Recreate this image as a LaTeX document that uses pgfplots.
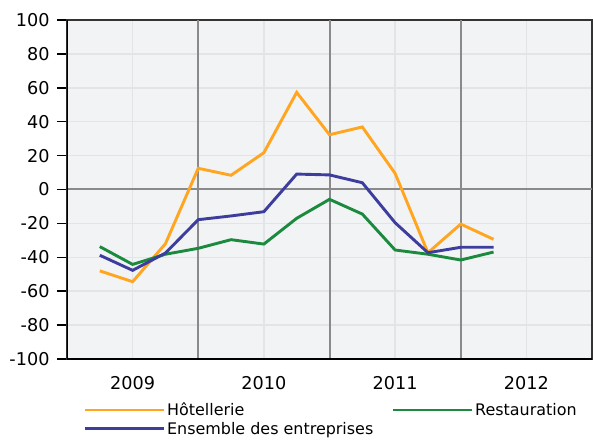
\documentclass[border=0pt]{standalone}
\usepackage{fontspec}
\setmainfont{DejaVu Sans}
\usepackage{pgfplots}
\pgfplotsset{compat=1.18}
\definecolor{bgc}{HTML}{F2F3F5}
\definecolor{lgrid}{HTML}{E3E4E7}
\definecolor{dgrid}{HTML}{8A8A8A}
\definecolor{hot}{HTML}{FFA51F}
\definecolor{rest}{HTML}{1B8A3E}
\definecolor{ens}{HTML}{3D3D9E}
\begin{document}
\begin{tikzpicture}
\begin{axis}[
    scale only axis,
    width=525bp, height=339bp,
    xmin=0, xmax=16,
    ymin=-100, ymax=100,
    axis background/.style={fill=bgc},
    axis line style={draw=black!80, line width=1.2bp},
    tick label style={font=\fontsize{17.7}{20}\selectfont},
    ytick={-100,-80,...,100},
    yticklabels={-100,-80,-60,-40,-20,0,20,40,60,80,100},
    ytick pos=left,
    tick align=outside,
    major tick length=10bp,
    tick style={black, line width=1.5bp},
    yticklabel style={xshift=-4bp},
    xtick={2,6,10,14},
    xticklabels={2009,2010,2011,2012},
    xtick style={draw=none},
    xticklabel style={yshift=-4bp},
    grid=major,
    major grid style={lgrid, line width=1.5bp},
    extra x ticks={4,8,12},
    extra x tick labels={},
    extra x tick style={major tick length=0pt, major grid style={dgrid, line width=2bp}},
    extra y ticks={0},
    extra y tick labels={},
    extra y tick style={major tick length=0pt, major grid style={dgrid, line width=2bp}},
    legend columns=2,
    legend cell align=left,
    legend style={draw=none, fill=none, inner sep=0pt,
        at={(0.0305,-0.123)}, anchor=north west,
        font=\fontsize{16}{19}\selectfont,
        /tikz/every even column/.append style={column sep=16bp},
        row sep=1bp},
    legend image code/.code={\draw[#1] (0bp,0bp) -- (79bp,0bp);},
]
\addplot[hot, line width=2.9bp] coordinates {
 (1,-48) (2,-54.4) (3,-32) (4,12.5) (5,8.4) (6,21.7) (7,57.3)
 (8,32.3) (9,36.9) (10,9.5) (11,-37.3) (12,-20.4) (13,-29.4)};
\addlegendentry{Hôtellerie}
\addplot[rest, line width=2.9bp] coordinates {
 (1,-33.7) (2,-44.2) (3,-38.2) (4,-34.7) (5,-29.6) (6,-32.2) (7,-17)
 (8,-5.8) (9,-14.5) (10,-35.7) (11,-38.2) (12,-41.6) (13,-36.9)};
\addlegendentry{Restauration}
\addplot[ens, line width=2.9bp] coordinates {
 (1,-38.8) (2,-47.7) (3,-37.5) (4,-17.8) (5,-15.6) (6,-13.1) (7,9.1)
 (8,8.6) (9,4.0) (10,-19.6) (11,-37.3) (12,-34.1) (13,-34.1)};
\addlegendentry{Ensemble des entreprises}
\draw[black, line width=2.5bp] (rel axis cs:0,1) -- (rel axis cs:0,0) -- (rel axis cs:1,0);
\end{axis}
\path ([yshift=20bp,xshift=-67bp]current axis.north west);
\path ([yshift=-81bp]current axis.south west);
\end{tikzpicture}
\end{document}
